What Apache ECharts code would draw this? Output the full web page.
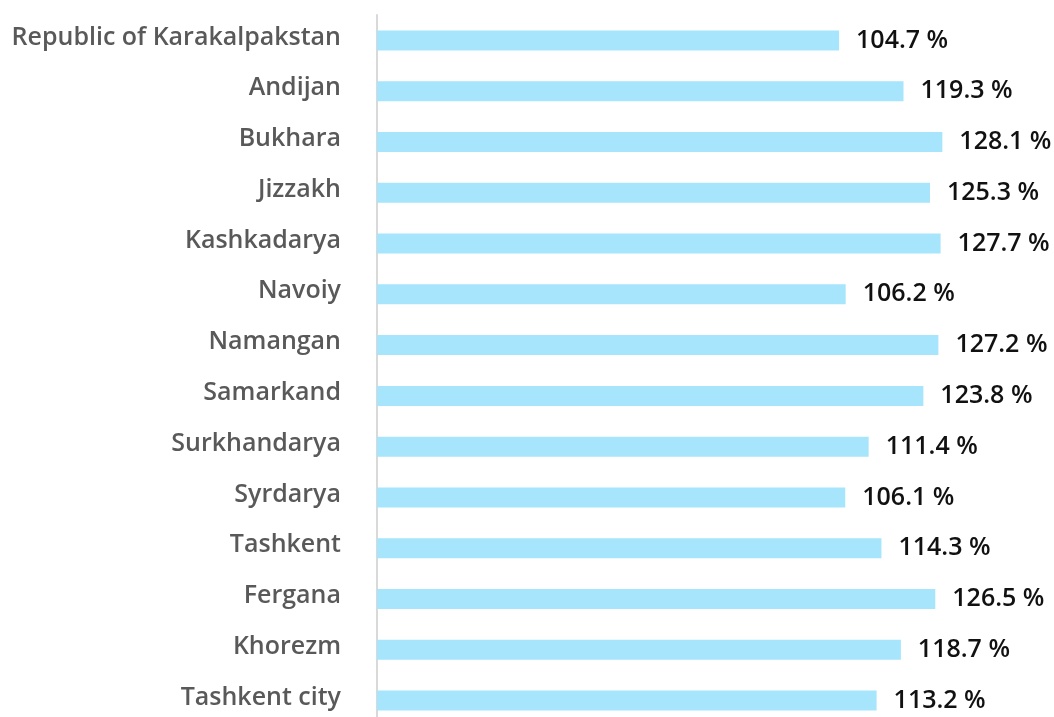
<!DOCTYPE html>
<html>
<head>
<meta charset="utf-8">
<script src="https://cdn.jsdelivr.net/npm/echarts@6/dist/echarts.min.js"></script>
<style>html,body{margin:0;padding:0;background:#fff;overflow:hidden}#c{width:1054px;height:727px}</style>
</head>
<body>
<div id="c"></div>
<script>
const categories = ["Republic of Karakalpakstan","Andijan","Bukhara","Jizzakh","Kashkadarya","Navoiy","Namangan","Samarkand","Surkhandarya","Syrdarya","Tashkent","Fergana","Khorezm","Tashkent city"];
const values = [104.7,119.3,128.1,125.3,127.7,106.2,127.2,123.8,111.4,106.1,114.3,126.5,118.7,113.2];

const chart = echarts.init(document.getElementById('c'));
chart.setOption({
  animation: false,
  grid: {left: 377, top: 15, width: 662, height: 711},
  xAxis: {type: 'value', min: 0, max: 150, show: false},
  yAxis: {
    type: 'category', data: categories, inverse: true,
    axisLine: {show: true, lineStyle: {color: '#d9d9d9', width: 2}},
    axisTick: {show: false},
    axisLabel: {
      margin: 36,
      formatter: v => '{a|' + v + '}',
      rich: {a: {color: '#595959', fontFamily: 'Open Sans', fontWeight: 600, fontSize: 25, padding: [0, 0, 6, 0]}}
    }
  },
  series: [{
    type: 'bar', data: values, barWidth: 20,
    itemStyle: {color: '#a6e5fc'},
    label: {show: true, position: 'right', distance: 17, color: '#111', fontFamily: 'Open Sans', fontWeight: 600, fontSize: 25,
      formatter: p => p.value.toFixed(1) + ' %'}
  }]
});
</script>
</body>
</html>
